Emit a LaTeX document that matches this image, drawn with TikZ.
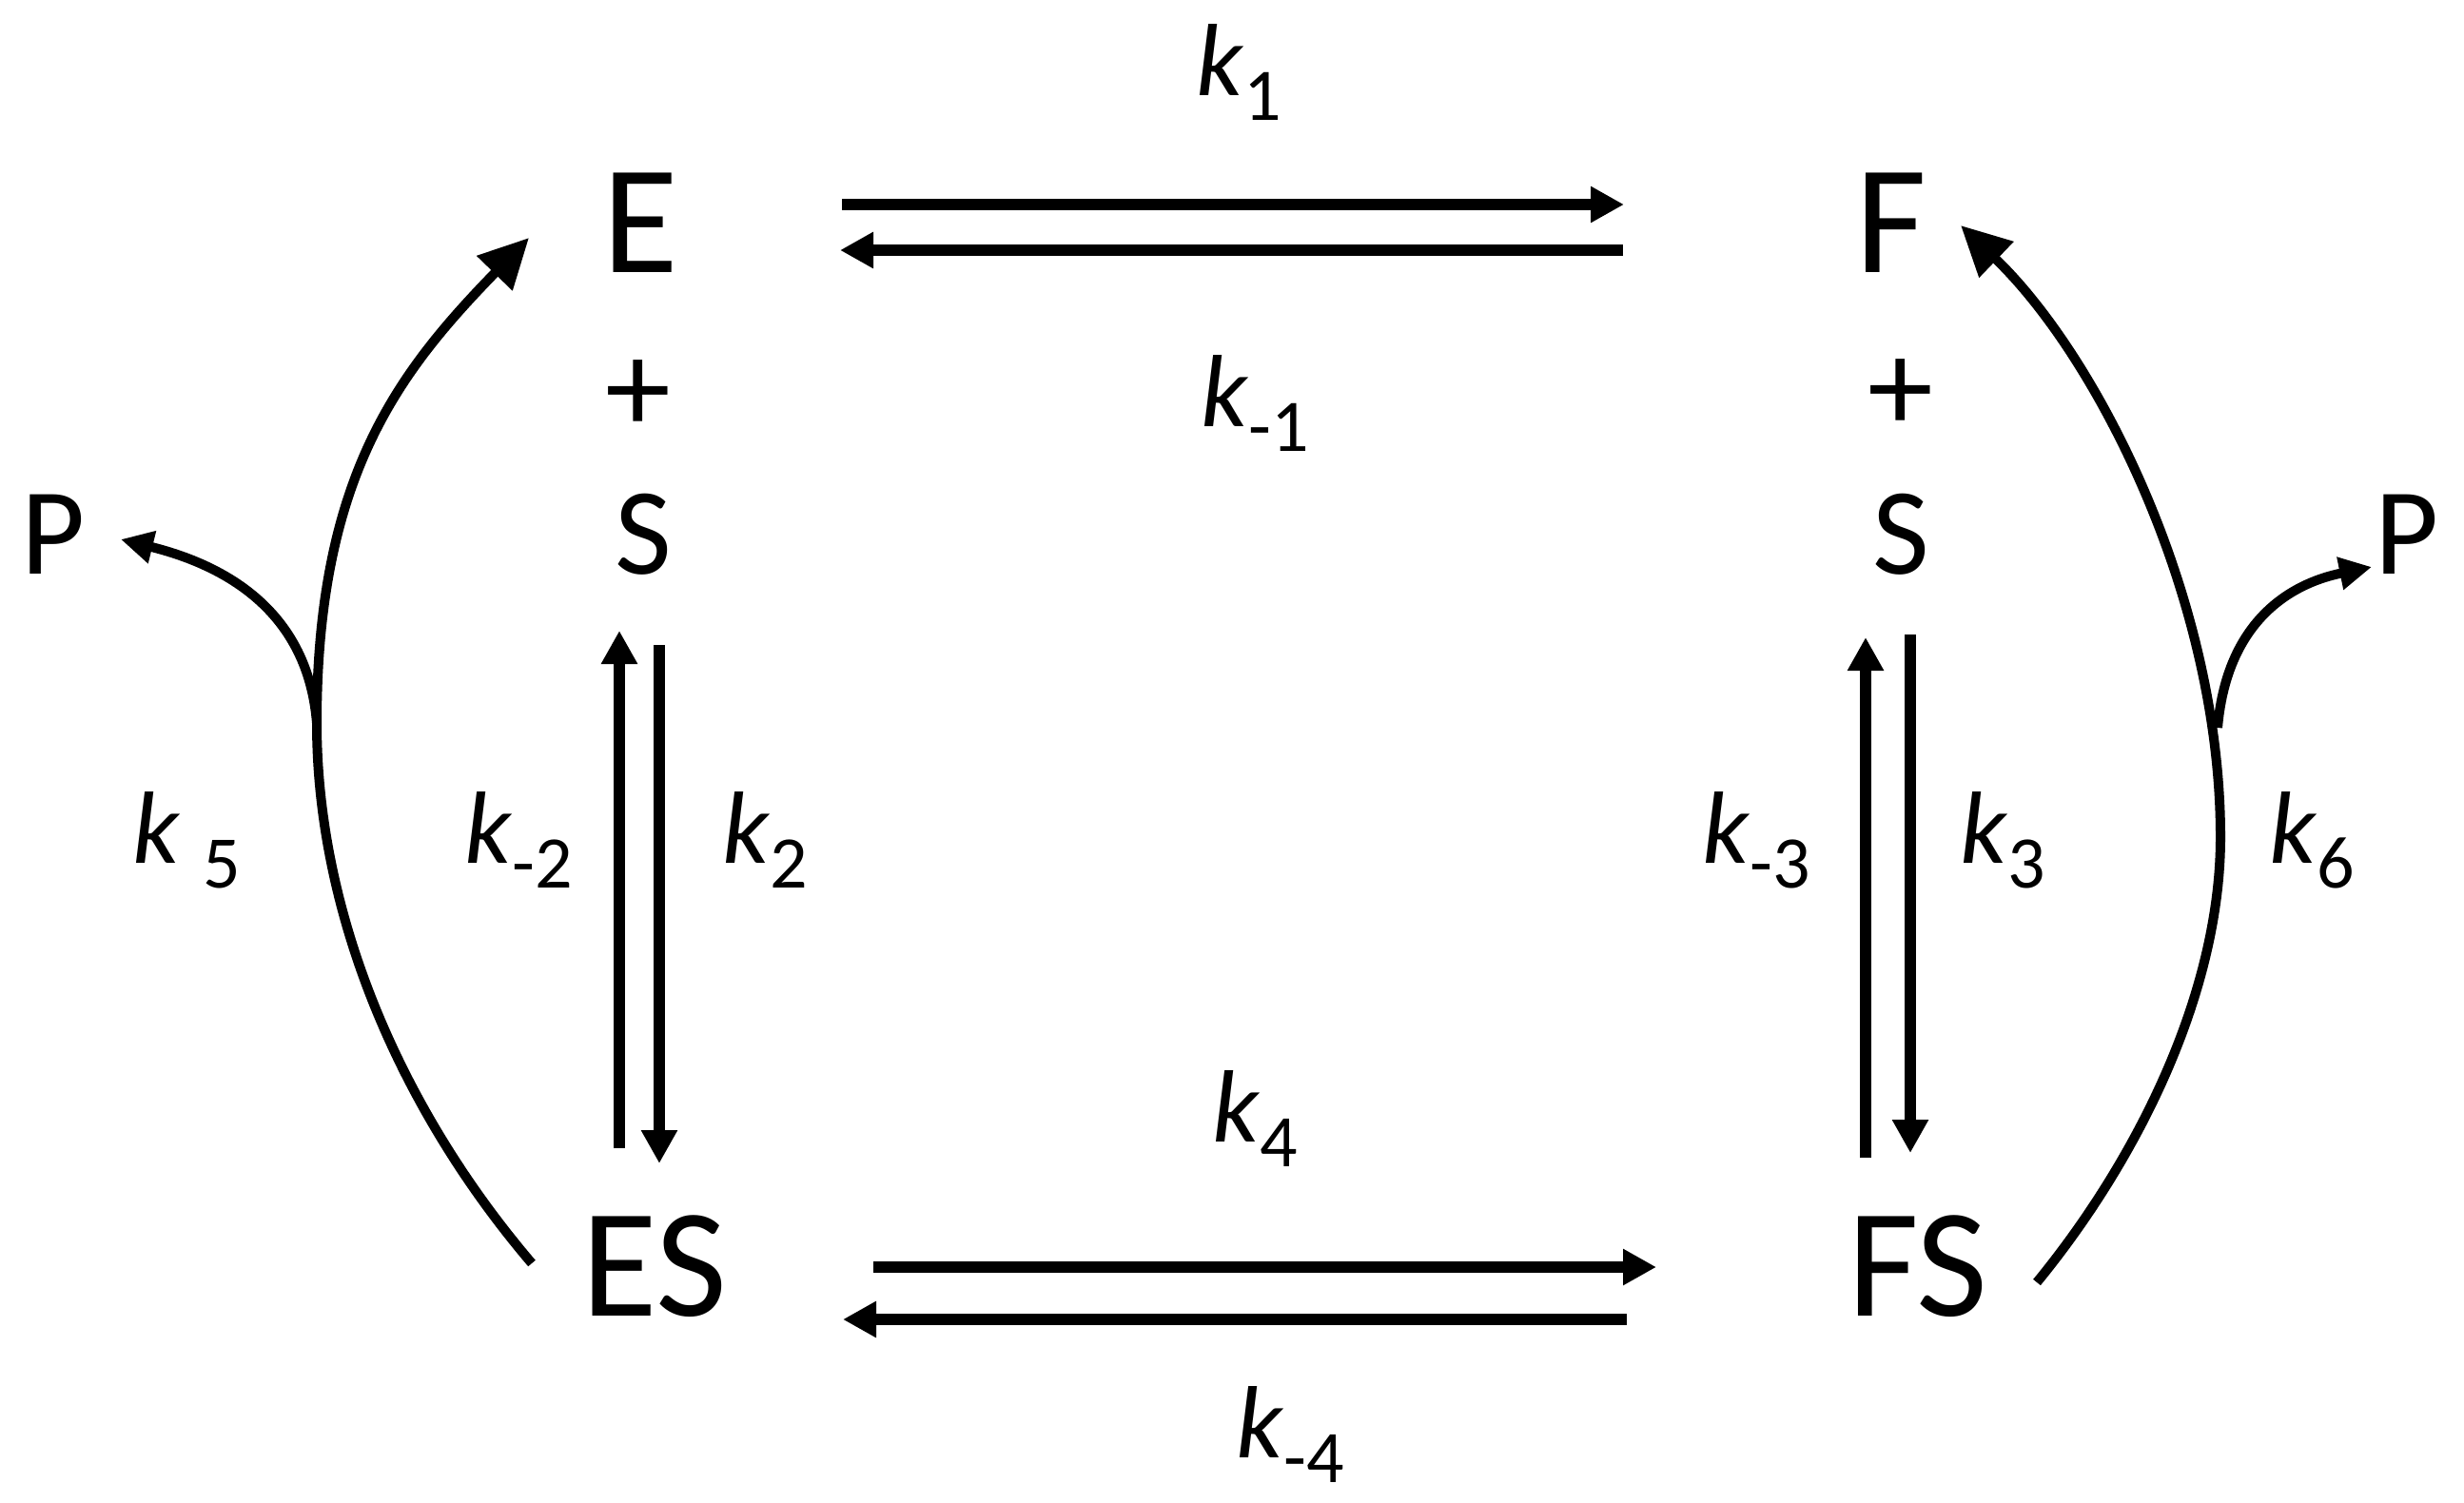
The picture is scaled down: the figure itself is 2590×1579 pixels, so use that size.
\documentclass[tikz,border=0pt]{standalone}
\usepackage{fontspec}
\setmainfont{Carlito}
\usetikzlibrary{arrows.meta}
\newcommand\kl[1]{\textit{k}\raisebox{-26pt}{\fontsize{78}{78}\selectfont #1}}
\begin{document}
\begin{tikzpicture}[x=1pt,y=-1pt,
  big/.style={font=\fontsize{163}{163}\selectfont, inner sep=0pt, anchor=base},
  med/.style={font=\fontsize{130}{130}\selectfont, inner sep=0pt, anchor=base},
  plus/.style={font=\fontsize{138}{138}\selectfont, inner sep=0pt, anchor=base},
  lab/.style={font=\fontsize{108}{108}\selectfont, inner sep=0pt, anchor=base west},
  sarr/.style={line width=11.5pt, -{Triangle[length=35pt,width=36pt]}},
  carr/.style={line width=10pt, -{Triangle[length=52pt,width=50pt]}},
  parr/.style={line width=10pt, -{Triangle[length=34pt,width=33pt]}}]
\useasboundingbox (0,0) rectangle (2590,1579);
\fill[white] (0,0) rectangle (2590,1579);

% species
\node[big] (E) at (673,286) {E};
\node[big] (F) at (1988,286) {F};
\node[plus] (pE) at (671,454) {+};
\node[plus] (pF) at (1998,453) {+};
\node[med] (SE) at (676,603) {S};
\node[med] (SF) at (1998,603) {S};
\node[med] (PL) at (56,603) {P};
\node[med] (PR) at (2530,603) {P};
\node[big] (ES) at (688,1383) {ES};
\node[big] (FS) at (2016,1383) {FS};

% rate constants
\node[lab] (k1) at (1257,100) {\kl{1}};
\node[lab] (km1) at (1262,448) {\kl{-1}};
\node[lab] (k4) at (1274,1200) {\kl{4}};
\node[lab] (km4) at (1299,1532) {\kl{-4}};
\node[lab] (k5) at (139,907) {\kl{\hspace{24pt}5}};
\node[lab] (km2) at (488,907) {\kl{-2}};
\node[lab] (k2) at (759,907) {\kl{2}};
\node[lab] (km3) at (1789,907) {\kl{-3}};
\node[lab] (k3) at (2060,907) {\kl{3}};
\node[lab] (k6) at (2385,907) {\kl{6}};

% connector ends
\coordinate (EFa) at (885,215);  \coordinate (EFb) at (1707,215);
\coordinate (FEa) at (1706,263); \coordinate (FEb) at (883,263);
\coordinate (ESa) at (918,1332); \coordinate (ESb) at (1741,1332);
\coordinate (SEa) at (1710,1387);\coordinate (SEb) at (886,1387);
\coordinate (Lua) at (651,1207); \coordinate (Lub) at (651,663);
\coordinate (Lda) at (693,678);  \coordinate (Ldb) at (693,1223);
\coordinate (Rua) at (1961,1217);\coordinate (Rub) at (1961,670);
\coordinate (Rda) at (2008,667); \coordinate (Rdb) at (2008,1212);
\coordinate (lc0) at (559,1328); \coordinate (lcm) at (333,760); \coordinate (lc1) at (556,250);
\coordinate (lpt) at (127,567);
\coordinate (rc0) at (2141,1348); \coordinate (rcm) at (2334,880); \coordinate (rc1) at (2061,237);
\coordinate (rb) at (2331,765); \coordinate (rpt) at (2493,596);

% horizontal
\draw[sarr] (EFa) -- (EFb);
\draw[sarr] (FEa) -- (FEb);
\draw[sarr] (ESa) -- (ESb);
\draw[sarr] (SEa) -- (SEb);
% vertical
\draw[sarr] (Lua) -- (Lub);
\draw[sarr] (Lda) -- (Ldb);
\draw[sarr] (Rua) -- (Rub);
\draw[sarr] (Rda) -- (Rdb);
% curves
\draw[carr] (lc0) .. controls (420,1165) and (333,960) .. (lcm) .. controls (333,500) and (420,390) .. (lc1);
\draw[parr] (lcm) .. controls (325,660) and (260,600) .. (lpt);
\draw[carr] (rc0) .. controls (2250,1215) and (2334,1040) .. (rcm) .. controls (2334,630) and (2205,375) .. (rc1);
\draw[parr] (rb) .. controls (2340,660) and (2400,615) .. (rpt);
\end{tikzpicture}
\end{document}
